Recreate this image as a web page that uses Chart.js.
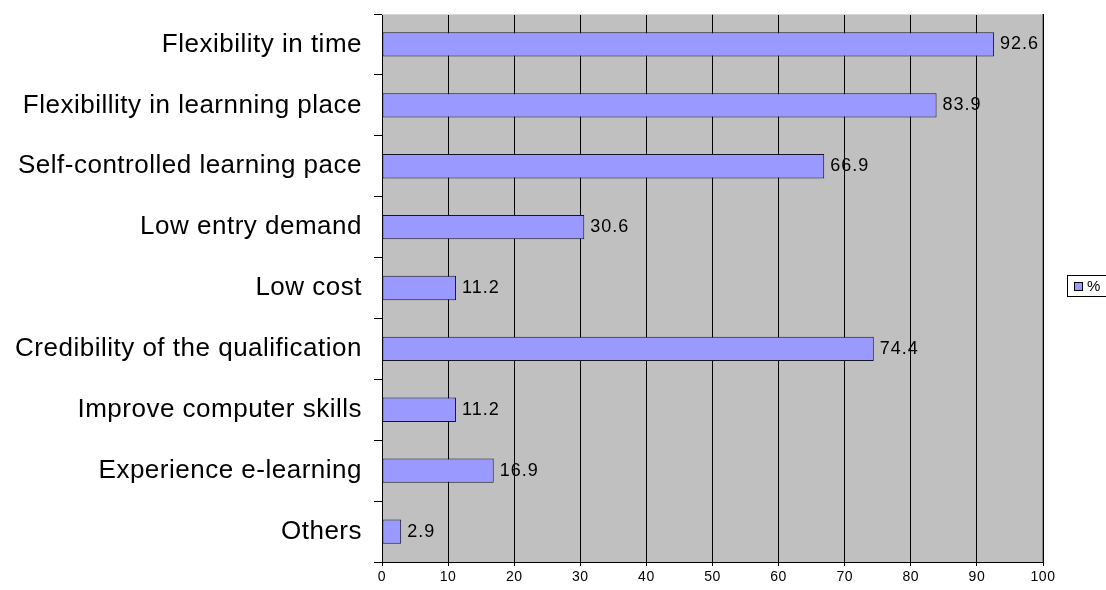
<!DOCTYPE html>
<html>
<head>
<meta charset="utf-8">
<script src="https://cdn.jsdelivr.net/npm/chart.js@4/dist/chart.umd.min.js"></script>
<style>
  html, body { margin: 0; padding: 0; background: #fff; }
  #wrap { width: 1106px; height: 590px; position: relative; }
</style>
</head>
<body>
<div id="wrap"><canvas id="barChart"></canvas></div>
<script>
var categories = [
  "Flexibility in time",
  "Flexibillity in learnning place",
  "Self-controlled learning pace",
  "Low entry demand",
  "Low cost",
  "Credibility of the qualification",
  "Improve computer skills",
  "Experience e-learning",
  "Others"
];
var percents = [92.6, 83.9, 66.9, 30.6, 11.2, 74.4, 11.2, 16.9, 2.9];
var xTicks = [0, 10, 20, 30, 40, 50, 60, 70, 80, 90, 100];

var FONT = "'Liberation Sans', Arial, sans-serif";

// grey plot background + the slightly wide-set text of the original
var plotBackground = {
  id: 'plotBackground',
  beforeDraw: function(chart) {
    var ctx = chart.ctx, a = chart.chartArea;
    ctx.save();
    ctx.fillStyle = '#c0c0c0';
    ctx.fillRect(a.left, a.top, a.right - a.left, a.bottom - a.top);
    ctx.restore();
    ctx.letterSpacing = '0.5px';
  },
  afterDraw: function(chart) {
    var ctx = chart.ctx, a = chart.chartArea;
    ctx.save();
    ctx.lineWidth = 1;
    ctx.strokeStyle = '#d4d4d4';
    ctx.beginPath();
    ctx.moveTo(a.left, a.top + 0.5);
    ctx.lineTo(a.right, a.top + 0.5);
    ctx.stroke();
    ctx.strokeStyle = '#868686';
    ctx.beginPath();
    ctx.moveTo(a.right - 0.5, a.top);
    ctx.lineTo(a.right - 0.5, a.bottom);
    ctx.stroke();
    ctx.restore();
  }
};

// value labels at the end of each bar
var barValues = {
  id: 'barValues',
  afterDatasetsDraw: function(chart) {
    var ctx = chart.ctx;
    chart.data.datasets.forEach(function(ds, i) {
      chart.getDatasetMeta(i).data.forEach(function(bar, j) {
        ctx.save();
        ctx.letterSpacing = '1px';
        ctx.font = '18px ' + FONT;
        ctx.fillStyle = '#000';
        ctx.textAlign = 'left';
        ctx.textBaseline = 'middle';
        ctx.fillText(ds.data[j].toFixed(1), bar.x + 6, bar.y);
        ctx.restore();
      });
    });
  }
};

// small boxed legend on the right
var sideLegend = {
  id: 'sideLegend',
  afterDraw: function(chart) {
    var ctx = chart.ctx;
    var ds = chart.data.datasets[0];
    ctx.save();
    ctx.lineWidth = 1;
    ctx.strokeStyle = '#000';
    ctx.fillStyle = '#fff';
    ctx.fillRect(1067, 275, 45, 22);
    ctx.strokeRect(1067.5, 275.5, 45, 21);
    ctx.fillStyle = ds.backgroundColor;
    ctx.fillRect(1074, 282, 8, 8);
    ctx.strokeStyle = '#000';
    ctx.strokeRect(1074.5, 282.5, 8, 8);
    ctx.fillStyle = '#000';
    ctx.font = '15px ' + FONT;
    ctx.textBaseline = 'middle';
    ctx.fillText(ds.label, 1087, 287);
    ctx.restore();
    ctx.letterSpacing = '0px';
  }
};

var ctx = document.getElementById("barChart").getContext("2d");
new Chart(ctx, {
  type: 'bar',
  data: {
    labels: categories,
    datasets: [{
      label: '%',
      data: percents,
      backgroundColor: '#9999ff',
      borderColor: '#141428',
      borderWidth: 1,
      borderSkipped: false,
      categoryPercentage: 1,
      barPercentage: 0.4
    }]
  },
  options: {
    indexAxis: 'y',
    responsive: true,
    maintainAspectRatio: false,
    animation: false,
    layout: { padding: { top: 14, right: 63, bottom: 0, left: 0 } },
    plugins: {
      legend: { display: false },
      tooltip: { enabled: false }
    },
    scales: {
      x: {
        min: 0,
        max: 100,
        afterBuildTicks: function(scale) {
          scale.ticks = xTicks.map(function(v) { return { value: v }; });
        },
        afterFit: function(scale) {
          scale.height = 28;
          scale.paddingLeft = 0;
          scale.paddingRight = 0;
        },
        grid: { color: '#000', lineWidth: 1, tickLength: 4 },
        border: { display: true, color: '#000' },
        ticks: { color: '#000', padding: 3, maxRotation: 0, font: { family: FONT, size: 14 } }
      },
      y: {
        offset: true,
        afterFit: function(scale) {
          scale.width = 382;
          scale.paddingTop = 0;
          scale.paddingBottom = 0;
        },
        grid: { drawOnChartArea: false, drawTicks: true, tickLength: 8, color: '#000', offset: true },
        border: { display: true, color: '#000' },
        ticks: { color: '#000', padding: 12, font: { family: FONT, size: 26 } }
      }
    }
  },
  plugins: [plotBackground, barValues, sideLegend]
});
</script>
</body>
</html>
